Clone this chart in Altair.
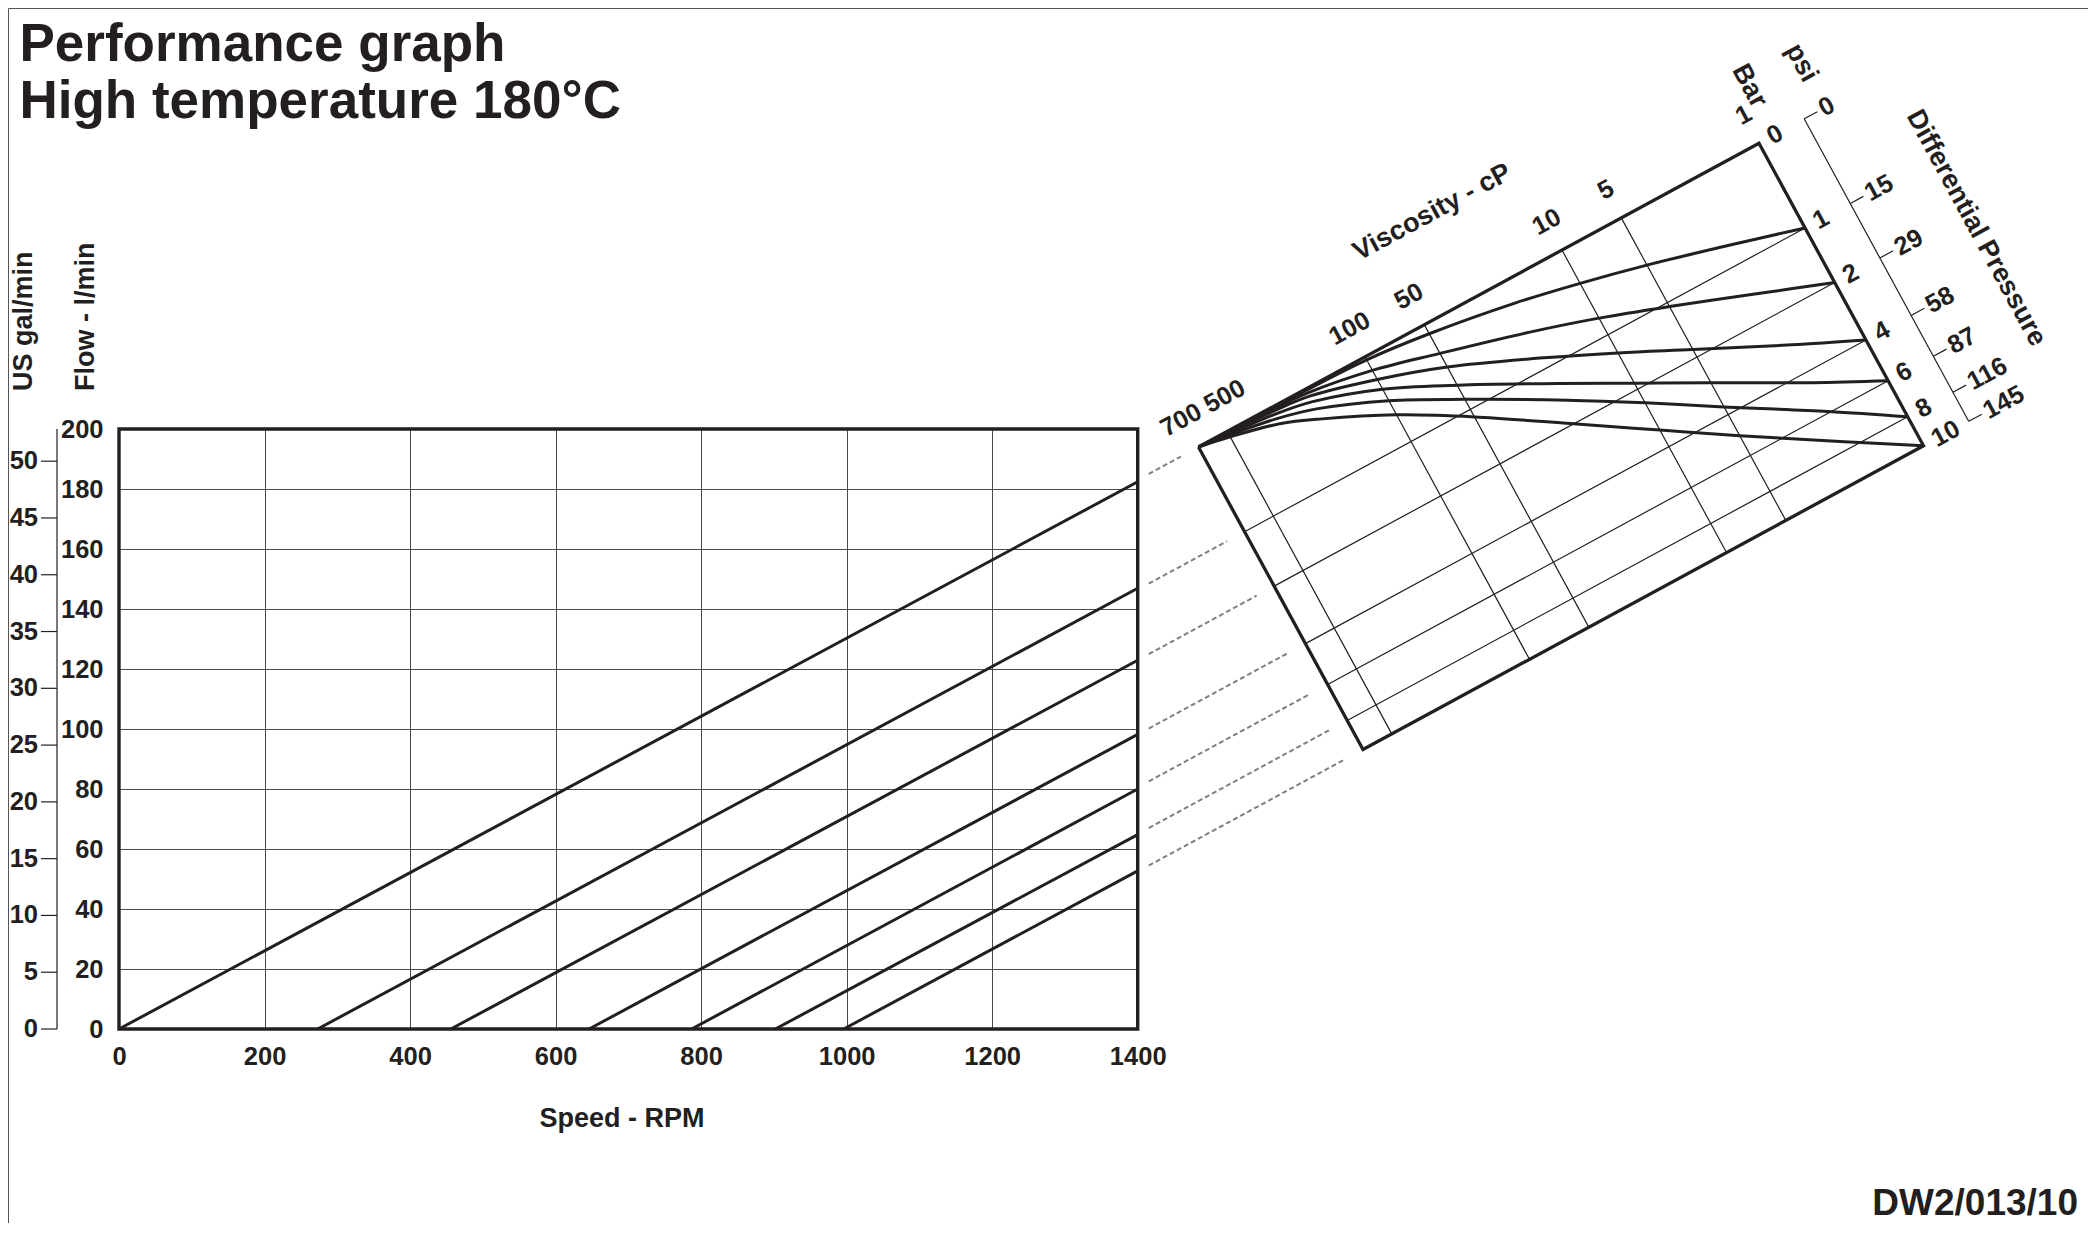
import math
import altair as alt
import pandas as pd

# ------------------------------------------------------------------ data
RPM_MAX = 1400
FLOW_MAX = 200
rpm_ticks = [0, 200, 400, 600, 800, 1000, 1200, 1400]
flow_ticks = [0, 20, 40, 60, 80, 100, 120, 140, 160, 180, 200]
gal_ticks = [0, 5, 10, 15, 20, 25, 30, 35, 40, 45, 50]
L_PER_GAL = 3.78541

# performance lines (one per differential pressure, bar)
line_bar = [0, 1, 2, 4, 6, 8, 10]
line_start_rpm = [0, 273, 456, 646, 787, 902, 996]
line_end_flow = [182.4, 146.9, 122.9, 98.2, 80.0, 64.8, 52.7]

# nomogram: viscosity (log scale from 700 cP to 1 cP)
VISC_MAX = 700
visc_grid = [500, 100, 50, 10, 5]
visc_labels = [100, 50, 10, 5, 1]
visc_apex_labels = [700, 500]

# nomogram: differential pressure scale (bar) and psi equivalents
bar_ticks = [0, 1, 2, 4, 6, 8, 10]
bar_scale_pos = [0.0, 0.28, 0.46, 0.65, 0.785, 0.904, 1.0]
psi_ticks = [0, 15, 29, 58, 87, 116, 145]

# pressure curves: slip position across the nomogram at each viscosity
curve_visc = [700, 500, 300, 200, 100, 50, 20, 10, 5, 2, 1]
curve_bar = [1, 2, 4, 6, 8, 10]
curve_slip = {
    1: [0, 0.001, 0.002, 0.004, 0.010, 0.030, 0.070, 0.110, 0.156, 0.225, 0.280],
    2: [0, 0.002, 0.006, 0.013, 0.045, 0.095, 0.165, 0.225, 0.293, 0.388, 0.460],
    4: [0, 0.004, 0.012, 0.024, 0.075, 0.140, 0.250, 0.340, 0.435, 0.560, 0.650],
    6: [0, 0.008, 0.022, 0.042, 0.107, 0.200, 0.335, 0.440, 0.545, 0.685, 0.785],
    8: [0, 0.012, 0.036, 0.066, 0.145, 0.247, 0.390, 0.505, 0.625, 0.780, 0.904],
    10: [0, 0.018, 0.053, 0.099, 0.192, 0.305, 0.470, 0.595, 0.720, 0.880, 1.000],
}

TITLE_1 = "Performance graph"
TITLE_2 = "High temperature 180°C"
FOOTER = "DW2/013/10"

# ------------------------------------------------------------------ layout
INK = "#231f20"
GRID = "#4a4a4a"
DASH = "#808080"
FONT = "Liberation Sans"
FS = 25.5      # tick / scale labels
FT = 27        # axis & scale titles

SVG_W, SVG_H = 2080, 1215
X0, Y0, W, H = 119.0, 429.0, 1018.7, 600.0   # plot area in page px
PAD_L, PAD_T = X0 - 8, Y0 - 8

A = (1198.5, 447.0)          # nomogram apex (page px)
E1 = (560.5, -303.7)         # viscosity edge vector
E2 = (164.5, 302.5)          # pressure edge vector
L1 = math.hypot(*E1)
L2 = math.hypot(*E2)
U1 = (E1[0] / L1, E1[1] / L1)
U2 = (E2[0] / L2, E2[1] / L2)
ANG_AB = math.degrees(math.atan2(E1[1], E1[0])) % 360
ANG_BC = (ANG_AB + 90) % 360
PSI_OFF = 51.4


def page(t, w, da=0.0, dp=0.0):
    X = A[0] + t * E1[0] + w * E2[0] + da * U1[0] + dp * U2[0]
    Y = A[1] + t * E1[1] + w * E2[1] + da * U1[1] + dp * U2[1]
    return X, Y


def to_data(X, Y):
    return (X - X0) / W * RPM_MAX, (Y0 + H - Y) / H * FLOW_MAX


def nom(t, w, da=0.0, dp=0.0):
    return to_data(*page(t, w, da, dp))


def t_visc(v):
    return 1 - math.log(v) / math.log(VISC_MAX)


def bpos(b):
    return bar_scale_pos[bar_ticks.index(b)]


xs = alt.Scale(domain=[0, RPM_MAX], nice=False, zero=False)
ys = alt.Scale(domain=[0, FLOW_MAX], nice=False, zero=False)

axis_common = dict(labelFont=FONT, labelFontWeight="bold", labelFontSize=FS,
                   labelColor=INK, ticks=False, domain=False, grid=True,
                   gridColor=GRID, gridWidth=1, labelFlush=False,
                   labelOverlap=False, format="d")
XAXIS = alt.Axis(values=rpm_ticks, labelPadding=15, title="Speed - RPM",
                 titleFont=FONT, titleFontWeight="bold", titleFontSize=FT,
                 titleColor=INK, titleX=502.6, titleY=97.5,
                 titleBaseline="alphabetic", titleAlign="center", **axis_common)
YAXIS = alt.Axis(values=flow_ticks, labelPadding=16, title="", **axis_common)


def ex(f="x"):
    return alt.X(f"{f}:Q", scale=xs, axis=XAXIS)


def ey(f="y"):
    return alt.Y(f"{f}:Q", scale=ys, axis=YAXIS)


def rules(rows, color=INK, width=1.2, dash=None):
    df = pd.DataFrame(rows, columns=["x", "y", "x2", "y2"])
    kw = dict(color=color, strokeWidth=width)
    if dash:
        kw["strokeDash"] = dash
    return alt.Chart(df).mark_rule(**kw).encode(
        x=ex(), y=ey(), x2="x2:Q", y2="y2:Q")


def texts(rows, angle=0, align="center", baseline="middle", size=FS):
    df = pd.DataFrame(rows, columns=["x", "y", "label"])
    return alt.Chart(df).mark_text(
        font=FONT, fontWeight="bold", fontSize=size, color=INK,
        angle=angle, align=align, baseline=baseline
    ).encode(x=ex(), y=ey(), text="label:N")


def ptext(label, px, py, size, align="left", baseline="alphabetic", angle=0):
    return alt.Chart(pd.DataFrame({"label": [label]})).mark_text(
        font=FONT, fontWeight="bold", fontSize=size, color=INK,
        align=align, baseline=baseline, angle=angle
    ).encode(x=alt.value(px - X0), y=alt.value(py - Y0), text="label:N")


# ---------------------------------------------------------- main chart
lines_rows = []
for i, b in enumerate(line_bar):
    lines_rows.append({"id": b, "o": 0, "x": line_start_rpm[i], "y": 0})
    lines_rows.append({"id": b, "o": 1, "x": RPM_MAX, "y": line_end_flow[i]})
lines_df = pd.DataFrame(lines_rows)

main = alt.Chart(lines_df).mark_line(color=INK, strokeWidth=3).encode(
    x=ex(), y=ey(), detail="id:N", order="o:Q")

frame = alt.Chart(pd.DataFrame({"x": [0], "x2": [RPM_MAX], "y": [0], "y2": [FLOW_MAX]})
                  ).mark_rect(filled=False, stroke=INK, strokeWidth=3.4).encode(
    x=ex(), x2="x2:Q", y=ey(), y2="y2:Q")

# US gal/min secondary axis (drawn left of the l/min labels)
gal_axis_x = 57.0 - X0
gal_line = alt.Chart(pd.DataFrame({"y": [0], "y2": [FLOW_MAX]})).mark_rule(
    color=INK, strokeWidth=1.2).encode(x=alt.value(gal_axis_x), y=ey(), y2="y2:Q")
gal_df = pd.DataFrame({"y": [g * L_PER_GAL for g in gal_ticks],
                       "label": [str(g) for g in gal_ticks]})
gal_ticks_layer = alt.Chart(gal_df).mark_rule(color=INK, strokeWidth=1.2).encode(
    x=alt.value(41.0 - X0), x2=alt.value(gal_axis_x), y=ey())
gal_labels = alt.Chart(gal_df).mark_text(
    font=FONT, fontWeight="bold", fontSize=FS, color=INK, align="right",
    baseline="middle").encode(x=alt.value(38.0 - X0), y=ey(), text="label:N")

# ------------------------------------------------------------ nomogram
corners = [(0, 0), (1, 0), (1, 1), (0, 1), (0, 0)]
outline_df = pd.DataFrame([dict(zip(("x", "y"), nom(t, w)), o=i)
                           for i, (t, w) in enumerate(corners)])
outline = alt.Chart(outline_df).mark_line(
    color=INK, strokeWidth=3.3, strokeJoin="miter").encode(
    x=ex(), y=ey(), order="o:Q")

visc_lines = rules([(*nom(t_visc(v), 0), *nom(t_visc(v), 1)) for v in visc_grid])
press_lines = rules([(*nom(0, bpos(b)), *nom(1, bpos(b))) for b in bar_ticks[1:-1]])

curve_rows = []
for b in curve_bar:
    for i, v in enumerate(curve_visc):
        x, y = nom(t_visc(v), curve_slip[b][i])
        curve_rows.append({"id": b, "o": i, "x": x, "y": y})
curves = alt.Chart(pd.DataFrame(curve_rows)).mark_line(
    color=INK, strokeWidth=3, interpolate="catmull-rom").encode(
    x=ex(), y=ey(), detail="id:N", order="o:Q")

# dashed links from the 1400 rpm ends to the nomogram flow edge
dash_rows = []
for b in line_bar:
    P = page(0, bpos(b))
    s0 = (X0 + W + 11 - P[0]) / U1[0]
    s1 = -20.0
    dash_rows.append((*to_data(P[0] + s0 * U1[0], P[1] + s0 * U1[1]),
                      *to_data(P[0] + s1 * U1[0], P[1] + s1 * U1[1])))
dashes = rules(dash_rows, color=DASH, width=2, dash=[5, 3])

# psi scale
psi_line = rules([(*nom(1, 0, PSI_OFF), *nom(1, 1, PSI_OFF))])
psi_tick_rules = rules([(*nom(1, bpos(b), PSI_OFF), *nom(1, bpos(b), PSI_OFF + 15))
                        for b in bar_ticks])

# labels
visc_lbl = texts([(*nom(t_visc(v), 0, 0, -32), str(v)) for v in visc_labels],
                 angle=ANG_AB)
t_mid = (t_visc(visc_apex_labels[0]) + t_visc(visc_apex_labels[1])) / 2
apex_l = texts([(*nom(t_mid, 0, 6 - 3.5, -32), str(visc_apex_labels[0]))],
               angle=ANG_AB, align="right")
apex_r = texts([(*nom(t_mid, 0, 6 + 3.5, -32), str(visc_apex_labels[1]))],
               angle=ANG_AB, align="left")
visc_title = texts([(*nom(0.498, 0, 0, -95), "Viscosity - cP")], angle=ANG_AB, size=FT)

bar_lbl = texts([(*nom(1, bpos(b), 11), str(b)) for b in bar_ticks],
                angle=ANG_AB, align="left")
psi_lbl = texts([(*nom(1, bpos(b), PSI_OFF + 18.5), str(p))
                 for b, p in zip(bar_ticks, psi_ticks)], angle=ANG_AB, align="left")
bar_title = texts([(*nom(1, 0, 19, -32.5), "Bar")], angle=ANG_BC, align="right", size=FT)
psi_title = texts([(*nom(1, 0, PSI_OFF + 24.3, -31), "psi")], angle=ANG_BC,
                  align="right", size=FT)
dp_title = texts([(*nom(1, 0, PSI_OFF + 99, 178), "Differential Pressure")],
                 angle=ANG_BC, size=FT)

# page texts
title1 = ptext(TITLE_1, 19.5, 60.7, 53)
title2 = ptext(TITLE_2, 19.5, 117.7, 53)
footer = ptext(FOOTER, 2078, 1215, 37, align="right")
flow_title = ptext("Flow - l/min", 93.5, 391, FT, angle=270)
gal_title = ptext("US gal/min", 32, 391, FT, angle=270)

border_l = alt.Chart(pd.DataFrame({"a": [0]})).mark_rule(color="#555555", strokeWidth=1).encode(
    x=alt.value(0.5 - PAD_L), y=alt.value(0.5 - PAD_T), y2=alt.value(SVG_H - PAD_T))
border_t = alt.Chart(pd.DataFrame({"a": [0]})).mark_rule(color="#555555", strokeWidth=1).encode(
    x=alt.value(0.5 - PAD_L), x2=alt.value(SVG_W - PAD_L), y=alt.value(0.5 - PAD_T))

chart = alt.layer(
    main, frame, gal_line, gal_ticks_layer, gal_labels,
    visc_lines, press_lines, dashes, curves, outline,
    psi_line, psi_tick_rules,
    visc_lbl, apex_l, apex_r, visc_title, bar_lbl, psi_lbl,
    bar_title, psi_title, dp_title,
    title1, title2, footer, flow_title, gal_title, border_l, border_t,
).properties(
    width=W, height=H,
    autosize=alt.AutoSizeParams(type="none"),
    padding={"left": PAD_L, "top": PAD_T,
             "right": SVG_W - PAD_L - W, "bottom": SVG_H - PAD_T - H},
).configure_view(stroke=None)

chart.save("out.html", embed_options={"renderer": "svg", "actions": False})
